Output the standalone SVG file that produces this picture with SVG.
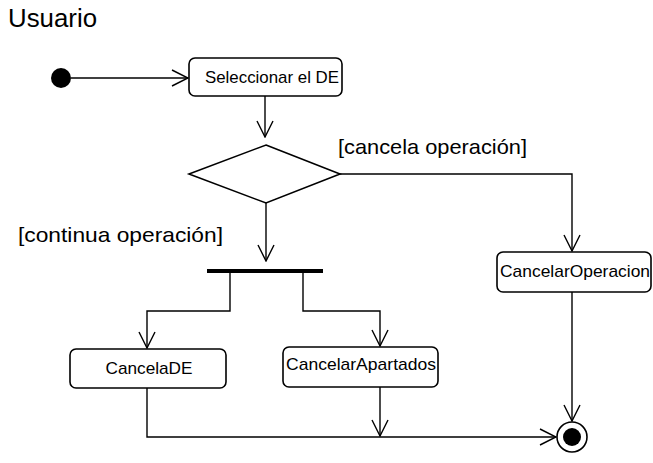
<svg xmlns="http://www.w3.org/2000/svg" width="653" height="463" viewBox="0 0 653 463">
  <style>
    .node rect { fill: #ffffff; stroke: #000000; stroke-width: 1.6; }
    .lbl { font-family: "Liberation Sans", Arial, sans-serif; font-size: 17px; fill: #000000; text-anchor: middle; }
    .guard { font-family: "Liberation Sans", Arial, sans-serif; font-size: 21px; fill: #000000; }
    .edge { fill: none; stroke: #000000; stroke-width: 1.4; }
  </style>
  <defs>
    <marker id="open" viewBox="0 0 18 18" refX="17" refY="9" markerWidth="18" markerHeight="18" markerUnits="userSpaceOnUse" orient="auto">
      <path d="M1,1 L17,9 L1,17" fill="none" stroke="#000000" stroke-width="1.4"/>
    </marker>
  </defs>
  <rect width="653" height="463" fill="#ffffff"/>

  <!-- Swimlane title -->
  <text x="8" y="27" font-family="Liberation Sans, Arial, sans-serif" font-size="26" textLength="89" lengthAdjust="spacingAndGlyphs">Usuario</text>

  <!-- Connectors -->
  <g id="connectors">
    <path class="edge" d="M71,78 H188" marker-end="url(#open)"/>
    <path class="edge" d="M265,96 V137" marker-end="url(#open)"/>
    <path class="edge" d="M340,174 H572 V251" marker-end="url(#open)"/>
    <path class="edge" d="M266,203 V261" marker-end="url(#open)"/>
    <path class="edge" d="M230,273 V311 H147 V348" marker-end="url(#open)"/>
    <path class="edge" d="M303,273 V311 H380 V346" marker-end="url(#open)"/>
    <path class="edge" d="M380,387 V436" marker-end="url(#open)"/>
    <path class="edge" d="M147,388 V437 H556" marker-end="url(#open)"/>
    <path class="edge" d="M572,292 V421" marker-end="url(#open)"/>
  </g>

  <!-- Guard labels -->
  <text class="guard" x="338" y="154" textLength="189" lengthAdjust="spacingAndGlyphs">[cancela operación]</text>
  <text class="guard" x="18" y="242" textLength="205" lengthAdjust="spacingAndGlyphs">[continua operación]</text>

  <!-- Initial node -->
  <g id="initial">
    <circle cx="61" cy="78" r="10" fill="#000000"/>
  </g>

  <g id="seleccionar" class="node">
    <rect x="189" y="58" width="153" height="38" rx="6"/>
    <text class="lbl" x="272" y="83" textLength="134" lengthAdjust="spacingAndGlyphs">Seleccionar el DE</text>
  </g>

  <g id="decision">
    <polygon points="266,145 340,174 266,203 189,174" fill="#ffffff" stroke="#000000" stroke-width="1.6"/>
  </g>

  <g id="fork">
    <rect x="207" y="269" width="116" height="4" fill="#000000"/>
  </g>

  <g id="cancelarOperacion" class="node">
    <rect x="497" y="252" width="154" height="40" rx="6"/>
    <text class="lbl" x="575" y="277" textLength="150" lengthAdjust="spacingAndGlyphs">CancelarOperacion</text>
  </g>

  <g id="cancelaDE" class="node">
    <rect x="70" y="349" width="156" height="39" rx="6"/>
    <text class="lbl" x="149" y="374" textLength="87" lengthAdjust="spacingAndGlyphs">CancelaDE</text>
  </g>

  <g id="cancelarApartados" class="node">
    <rect x="283" y="347" width="155" height="40" rx="6"/>
    <text class="lbl" x="361" y="370" textLength="150" lengthAdjust="spacingAndGlyphs">CancelarApartados</text>
  </g>

  <g id="final">
    <circle cx="572" cy="437" r="15" fill="#ffffff" stroke="#000000" stroke-width="1.6"/>
    <circle cx="572" cy="437" r="9" fill="#000000"/>
  </g>
</svg>
